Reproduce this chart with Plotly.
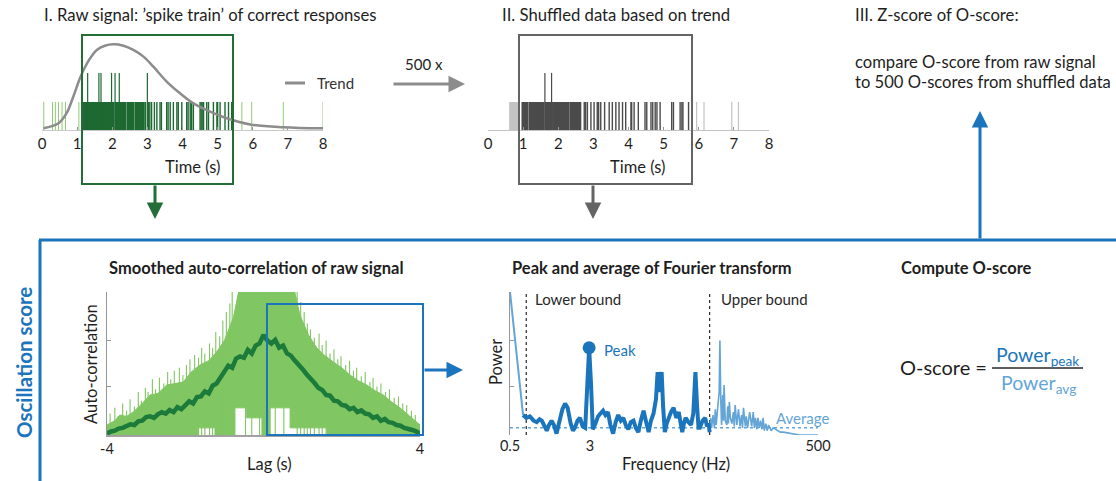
import plotly.graph_objects as go

W, H = 1116, 481
def px(x): return x / W
def py(y): return 1 - y / H

FONT = "Lato"
TXT = "rgb(30,30,30)"
BLUE = "rgb(27,117,188)"
LBLUE = "rgb(100,165,215)"
DGREEN = "rgb(30,105,50)"
LGREEN = "rgb(145,200,115)"
FILLGREEN = "rgb(128,198,98)"
SMOOTHGREEN = "rgb(28,122,58)"

# ---------------- data ----------------
time_ticks = [0, 1, 2, 3, 4, 5, 6, 7, 8]

# Panel I: raw spike train (s)
raw_light = [0.05, 0.30, 0.38, 0.47, 0.57, 0.67, 1.05, 5.69, 5.97, 6.87, 8.00]
raw_dark = [1.17, 1.20, 1.23, 1.26, 1.29, 1.32, 1.35, 1.38, 1.41, 1.44, 1.47, 1.50, 1.53, 1.56,
            1.59, 1.62, 1.65, 1.68, 1.71, 1.74, 1.77, 1.80, 1.83, 1.86, 1.89, 1.92, 1.95, 1.98,
            2.01, 2.04, 2.10, 2.13, 2.16, 2.19, 2.22, 2.25, 2.28, 2.31, 2.34, 2.37, 2.43, 2.46,
            2.49, 2.52, 2.55, 2.58, 2.61, 2.67, 2.70, 2.73, 2.76, 2.79, 2.82, 2.85, 2.89, 2.94]
raw_sparse = [3.03, 3.07, 3.12, 3.20, 3.27, 3.36, 3.40, 3.55, 3.59, 3.65, 3.74, 3.84, 3.88, 3.98,
              4.12, 4.16, 4.22, 4.26, 4.31, 4.50, 4.53, 4.56, 4.60, 4.69, 4.74, 4.88, 4.98, 5.00,
              5.07, 5.21, 5.31, 5.40]
raw_tall = [1.30, 1.62, 1.68, 1.98, 2.08, 2.20, 3.00]

trend_t = [0.04, 0.47, 0.70, 0.89, 1.08, 1.23, 1.37, 1.56, 1.79, 2.03, 2.32, 2.60, 2.89, 3.17,
           3.55, 3.93, 4.31, 4.69, 5.26, 5.93, 6.87, 8.0]
trend_v = [0.06, 0.24, 0.60, 1.19, 1.85, 2.26, 2.56, 2.86, 3.01, 3.06, 3.01, 2.86, 2.62, 2.26,
           1.73, 1.31, 0.95, 0.71, 0.42, 0.20, 0.10, 0.06]

# Panel II: shuffled spike train (s)
shuf_light = [0.63, 0.66, 0.69, 0.72, 0.75, 0.78, 0.81, 0.84]
shuf_light_sparse = [5.94, 6.15, 6.94, 7.13]
shuf_dark = [0.98, 1.01, 1.04, 1.07, 1.10, 1.13, 1.19, 1.22, 1.25, 1.28, 1.31, 1.34, 1.37, 1.40,
             1.43, 1.46, 1.49, 1.52, 1.55, 1.58, 1.64, 1.67, 1.70, 1.73, 1.76, 1.79, 1.85, 1.88,
             1.91, 1.94, 1.97, 2.00, 2.03, 2.06, 2.09, 2.12, 2.15, 2.18, 2.21, 2.24, 2.27, 2.30,
             2.36, 2.39, 2.42, 2.45, 2.48, 2.51, 2.54, 2.57, 2.60, 2.63]
shuf_sparse = [2.74, 2.78, 2.83, 2.93, 3.02, 3.11, 3.15, 3.21, 3.32, 3.45, 3.54, 3.64, 3.73, 3.83,
               3.92, 4.07, 4.09, 4.16, 4.28, 4.47, 4.52, 4.64, 4.69, 4.76, 4.81, 4.90, 5.23, 5.28,
               5.47, 5.52, 5.55, 5.71]
shuf_tall = [1.62, 1.81]

# Auto-correlation (lag in s): dense band of the raw auto-correlation
acf_band_lag = [-4.0, -3.8, -3.67, -3.5, -3.33, -3.1, -2.9, -2.7, -2.47, -2.25, -2.05, -1.85,
                -1.62, -1.4, -1.2, -1.0, -0.77, -0.6, 0.76, 0.93, 1.15, 1.36, 1.55, 1.79, 2.0,
                2.21, 2.42, 2.64, 2.85, 3.06, 3.28, 3.49, 3.75, 4.0]
acf_band_top = [0.07, 0.10, 0.14, 0.13, 0.16, 0.22, 0.28, 0.29, 0.35, 0.36, 0.37, 0.44, 0.49,
                0.52, 0.58, 0.66, 0.82, 1.05, 1.05, 0.84, 0.70, 0.61, 0.56, 0.51, 0.47, 0.42,
                0.38, 0.35, 0.31, 0.28, 0.23, 0.19, 0.13, 0.07]
acf_low_lag = [-4.0, -1.68, -1.68, -1.24, -1.24, -0.73, -0.73, -0.43, -0.43, -0.04, -0.04,
               0.17, 0.17, 0.68, 0.68, 1.62, 1.62, 4.0]
acf_low_val = [0, 0, 0.05, 0.05, 0, 0, 0.19, 0.19, 0.12, 0.12, 0, 0, 0.19, 0.19, 0.05, 0.05, 0, 0]
# thin spikes of the raw auto-correlation
acf_spike_lag = [-3.92, -3.8, -3.72, -3.6, -3.5, -3.41, -3.3, -3.2, -3.12, -3.02, -2.95, -2.84,
                 -2.76, -2.66, -2.55, -2.45, -2.37, -2.28, -2.15, -2.06, -1.97, -1.88, -1.76,
                 -1.66, -1.58, -1.5, -1.38, -1.3, -1.22, -1.12, -1.04, -0.95, -0.86, -0.8,
                 -0.46, -0.3, -0.1, 0.3, 0.52,
                 0.86, 0.95, 1.04, 1.12, 1.2, 1.3, 1.42, 1.5, 1.6, 1.7, 1.8, 1.9, 1.98, 2.1,
                 2.2, 2.3, 2.38, 2.5, 2.6, 2.72, 2.8, 2.9, 3.0, 3.12, 3.22, 3.34, 3.45, 3.56,
                 3.66, 3.78, 3.88]
acf_spike_top = [0.15, 0.19, 0.13, 0.22, 0.17, 0.25, 0.20, 0.30, 0.24, 0.33, 0.30, 0.39, 0.32,
                 0.40, 0.36, 0.44, 0.39, 0.45, 0.47, 0.42, 0.49, 0.53, 0.56, 0.54, 0.61, 0.57,
                 0.64, 0.61, 0.72, 0.69, 0.80, 0.86, 0.92, 1.05,
                 1.05, 1.05, 1.05, 1.05, 1.05,
                 1.05, 0.93, 0.86, 0.78, 0.74, 0.68, 0.71, 0.63, 0.66, 0.57, 0.60, 0.53, 0.55,
                 0.49, 0.52, 0.45, 0.47, 0.41, 0.44, 0.37, 0.40, 0.34, 0.36, 0.30, 0.32, 0.26,
                 0.27, 0.22, 0.21, 0.17, 0.14]
acf_lag = [-4.0, -3.9, -3.8, -3.7, -3.6, -3.5, -3.4, -3.3, -3.2, -3.1, -3.0, -2.9, -2.8, -2.7,
           -2.6, -2.5, -2.4, -2.3, -2.2, -2.1, -2.0, -1.9, -1.8, -1.7, -1.6, -1.5, -1.4, -1.3,
           -1.2, -1.1, -1.0, -0.9, -0.8, -0.7, -0.6, -0.5, -0.4, -0.3, -0.2, -0.1, 0.0, 0.1,
           0.2, 0.3, 0.4, 0.5, 0.6, 0.7, 0.8, 0.9, 1.0, 1.1, 1.2, 1.3, 1.4, 1.5, 1.6, 1.7, 1.8,
           1.9, 2.0, 2.1, 2.2, 2.3, 2.4, 2.5, 2.6, 2.7, 2.8, 2.9, 3.0, 3.1, 3.2, 3.3, 3.4, 3.5,
           3.6, 3.7, 3.8, 3.9, 4.0]
acf_smooth = [0.01, 0.025, 0.03, 0.045, 0.05, 0.065, 0.075, 0.07, 0.095, 0.10, 0.125, 0.13, 0.12,
              0.145, 0.16, 0.15, 0.175, 0.16, 0.195, 0.18, 0.21, 0.235, 0.22, 0.265, 0.27, 0.305,
              0.29, 0.345, 0.36, 0.405, 0.44, 0.485, 0.47, 0.535, 0.55, 0.54, 0.595, 0.57, 0.625,
              0.64, 0.70, 0.66, 0.64, 0.665, 0.61, 0.625, 0.57, 0.555, 0.52, 0.495, 0.46, 0.425,
              0.40, 0.365, 0.33, 0.315, 0.28, 0.275, 0.24, 0.235, 0.21, 0.205, 0.18, 0.19, 0.16,
              0.172, 0.15, 0.145, 0.12, 0.13, 0.10, 0.112, 0.09, 0.085, 0.07, 0.065, 0.05, 0.045,
              0.035, 0.025, 0.01]

# Fourier spectrum (Hz)
spec_lo_f = [0.5, 0.67]
spec_lo_p = [1.0, 0.14]
spec_mid_f = [0.67, 0.72, 0.78, 0.85, 0.91, 0.97, 1.02, 1.08, 1.14, 1.20, 1.27, 1.34, 1.42, 1.52,
              1.62, 1.72, 1.82, 1.95, 2.05, 2.14, 2.27, 2.40, 2.55, 2.70, 2.85, 2.95, 3.08, 3.20,
              3.40, 3.60, 3.80, 4.03, 4.25, 4.50, 4.75, 5.05, 5.35, 5.66, 6.00, 6.35, 6.70, 7.10,
              7.50, 7.97, 8.40, 8.90, 9.40, 10.0, 10.6, 11.2, 11.8, 12.5, 13.2, 13.7, 14.3, 15.0,
              15.5, 16.1, 16.8, 17.5, 18.5, 19.6, 20.8, 22.0, 23.0, 23.8, 24.7, 25.7, 27.3, 29.0,
              30.5, 32.0, 33.2, 34.3, 35.3, 37.5, 39.8, 41.5, 43.0, 44.0]
spec_mid_p = [0.14, 0.12, 0.13, 0.10, 0.09, 0.11, 0.10, 0.07, 0.03, 0.07, 0.10, 0.07, 0.01, 0.10,
              0.18, 0.22, 0.19, 0.08, 0.03, 0.05, 0.10, 0.12, 0.06, 0.05, 0.40, 0.61, 0.35, 0.04,
              0.08, 0.13, 0.15, 0.17, 0.14, 0.16, 0.07, 0.01, 0.09, 0.14, 0.10, 0.12, 0.07, 0.04,
              0.09, 0.10, 0.05, 0.02, 0.10, 0.17, 0.09, 0.02, 0.10, 0.15, 0.25, 0.44, 0.30, 0.44,
              0.20, 0.02, 0.08, 0.12, 0.16, 0.19, 0.12, 0.16, 0.08, 0.02, 0.08, 0.12, 0.09, 0.07,
              0.15, 0.44, 0.20, 0.05, 0.05, 0.10, 0.12, 0.06, 0.08, 0.02]
spec_hi_f = [44.0, 45.0, 46.0, 47.5, 49.0, 50.0, 51.0, 52.0, 53.0, 54.5, 55.4, 56.5, 57.5, 59.0,
             60.0, 60.8, 62.5, 64.7, 66.0, 67.0, 68.5, 70.0, 72.5, 75.0, 76.5, 78.0, 81.0, 84.0,
             87.0, 90.0, 92.0, 94.0, 98.0, 100, 103, 108, 113, 117, 120, 123, 127, 130, 134, 138,
             142, 146, 150, 155, 160, 165, 175, 183, 200, 215, 230, 270, 330, 500]
spec_hi_p = [0.02, 0.12, 0.05, 0.14, 0.05, 0.18, 0.07, 0.12, 0.21, 0.30, 0.66, 0.25, 0.07, 0.28,
             0.10, 0.35, 0.10, 0.07, 0.20, 0.08, 0.23, 0.12, 0.08, 0.16, 0.06, 0.21, 0.07, 0.18,
             0.06, 0.14, 0.05, 0.19, 0.06, 0.13, 0.05, 0.16, 0.06, 0.16, 0.05, 0.12, 0.04, 0.12,
             0.05, 0.10, 0.04, 0.12, 0.03, 0.08, 0.03, 0.07, 0.03, 0.05, 0.03, 0.02, 0.02, 0.01,
             0.0, 0.0]
peak_f, peak_p = 2.95, 0.61
avg_p = 0.05
lower_bound_f, upper_bound_f = 0.72, 44.0
freq_ticks = [0.5, 3, 500]
lag_ticks = [-4, 4]

SPIKE_H, TALL_H = 1.0, 2.04


def spikes(times, h):
    xs, ys = [], []
    hs = h if isinstance(h, list) else [h] * len(times)
    for t, v in zip(times, hs):
        xs += [t, t, None]
        ys += [0, v, None]
    return xs, ys


fig = go.Figure()

def add_spikes(times, h, color, xa, ya, w=1.0):
    xs, ys = spikes(times, h)
    fig.add_trace(go.Scatter(x=xs, y=ys, mode="lines", line=dict(color=color, width=w),
                             xaxis=xa, yaxis=ya, hoverinfo="skip", showlegend=False))

# Panel I
add_spikes(raw_light, SPIKE_H, LGREEN, "x", "y")
add_spikes(raw_dark, SPIKE_H, DGREEN, "x", "y", 1.9)
add_spikes(raw_sparse, SPIKE_H, DGREEN, "x", "y", 1.4)
add_spikes(raw_tall, TALL_H, DGREEN, "x", "y", 1.2)
fig.add_trace(go.Scatter(x=trend_t, y=trend_v, mode="lines",
                         line=dict(color="rgb(140,140,140)", width=2.5, shape="spline"),
                         xaxis="x", yaxis="y", showlegend=False))
# Panel II
add_spikes(shuf_light, SPIKE_H, "rgb(195,195,195)", "x2", "y2", 1.9)
add_spikes(shuf_light_sparse, SPIKE_H, "rgb(195,195,195)", "x2", "y2", 1.2)
add_spikes(shuf_dark, SPIKE_H, "rgb(75,75,75)", "x2", "y2", 1.9)
add_spikes(shuf_sparse, SPIKE_H, "rgb(75,75,75)", "x2", "y2", 1.4)
add_spikes(shuf_tall, TALL_H, "rgb(75,75,75)", "x2", "y2", 1.2)

# Auto-correlation
poly_x = acf_band_lag + acf_low_lag[::-1]
poly_y = acf_band_top + acf_low_val[::-1]
fig.add_trace(go.Scatter(x=poly_x, y=poly_y, mode="lines", fill="toself", fillcolor=FILLGREEN,
                         line=dict(color=FILLGREEN, width=1), xaxis="x3", yaxis="y3", showlegend=False))
add_spikes(acf_spike_lag, acf_spike_top, FILLGREEN, "x3", "y3", 1.1)
fig.add_trace(go.Scatter(x=acf_lag, y=acf_smooth, mode="lines", line=dict(color=SMOOTHGREEN, width=4.5),
                         xaxis="x3", yaxis="y3", showlegend=False))

# Spectrum
fig.add_trace(go.Scatter(x=[0.5, 500], y=[avg_p, avg_p], mode="lines",
                         line=dict(color=LBLUE, width=1.5, dash="dot"),
                         xaxis="x4", yaxis="y4", showlegend=False))
for bf in [lower_bound_f, upper_bound_f]:
    fig.add_trace(go.Scatter(x=[bf, bf], y=[0, 1], mode="lines",
                             line=dict(color="rgb(40,40,40)", width=1.2, dash="dot"),
                             xaxis="x4", yaxis="y4", showlegend=False))
fig.add_trace(go.Scatter(x=spec_lo_f, y=spec_lo_p, mode="lines", line=dict(color=LBLUE, width=2),
                         xaxis="x4", yaxis="y4", showlegend=False))
fig.add_trace(go.Scatter(x=spec_hi_f, y=spec_hi_p, mode="lines", line=dict(color=LBLUE, width=1.6),
                         xaxis="x4", yaxis="y4", showlegend=False))
fig.add_trace(go.Scatter(x=spec_mid_f, y=spec_mid_p, mode="lines", line=dict(color=BLUE, width=4),
                         xaxis="x4", yaxis="y4", showlegend=False))
fig.add_trace(go.Scatter(x=[peak_f], y=[peak_p], mode="markers", marker=dict(color=BLUE, size=13),
                         xaxis="x4", yaxis="y4", showlegend=False))

tickfont = dict(family=FONT, size=15, color=TXT)
common = dict(showgrid=False, zeroline=False, fixedrange=True, automargin=False)

fig.update_layout(
    width=W, height=H, margin=dict(l=0, r=0, t=0, b=0, pad=0, autoexpand=False),
    paper_bgcolor="white", plot_bgcolor="rgba(0,0,0,0)",
    font=dict(family=FONT, color=TXT),
    xaxis=dict(domain=[px(42), px(323)], range=[0, 8], anchor="y", tickvals=time_ticks,
               showline=True, linecolor="rgb(200,200,200)", linewidth=1, ticks="inside", ticklen=3,
               tickcolor="rgb(150,150,150)", tickfont=tickfont, **common),
    yaxis=dict(domain=[py(130), py(40)], range=[0, 90 / 28], anchor="x", visible=False, **common),
    xaxis2=dict(domain=[px(488), px(769)], range=[0, 8], anchor="y2", tickvals=time_ticks,
                showline=True, linecolor="rgb(195,195,195)", linewidth=1, ticks="inside", ticklen=3,
                tickcolor="rgb(150,150,150)", tickfont=tickfont, **common),
    yaxis2=dict(domain=[py(130), py(40)], range=[0, 90 / 28], anchor="x2", visible=False, **common),
    xaxis3=dict(domain=[px(107), px(420)], range=[-4, 4], anchor="y3", tickvals=lag_ticks,
                ticktext=[str(v) for v in lag_ticks], showline=True, linecolor="rgb(160,160,160)",
                linewidth=2, ticks="", tickfont=dict(family=FONT, size=14.5, color=TXT), **common),
    yaxis3=dict(domain=[py(435), py(292)], range=[0, 1], anchor="x3", showline=True,
                linecolor="rgb(150,150,150)", linewidth=1, ticks="inside", ticklen=4,
                tickcolor="rgb(150,150,150)", tickvals=[0.336, 0.664], showticklabels=False, **common),
    xaxis4=dict(domain=[px(510), px(818)], type="log", range=[-0.30103, 2.69897], anchor="y4",
                tickvals=freq_ticks, ticktext=[str(v) for v in freq_ticks], showline=False, ticks="",
                tickfont=dict(family=FONT, size=14.5, color=TXT), **common),
    yaxis4=dict(domain=[py(435), py(292)], range=[0, 1], anchor="x4", showline=True,
                linecolor="rgb(150,150,150)", linewidth=1, ticks="inside", ticklen=4,
                tickcolor="rgb(150,150,150)", tickvals=[0.336, 0.664], showticklabels=False, **common),
)

shapes = []
def rect(x0, y0, x1, y1, color, w=2):
    shapes.append(dict(type="rect", xref="paper", yref="paper", x0=px(x0), x1=px(x1),
                       y0=py(y1), y1=py(y0), line=dict(color=color, width=w)))
def line(x0, y0, x1, y1, color, w=2):
    shapes.append(dict(type="line", xref="paper", yref="paper", x0=px(x0), x1=px(x1),
                       y0=py(y0), y1=py(y1), line=dict(color=color, width=w)))

rect(82, 35, 233, 184, "rgb(35,110,55)", 2)
rect(519, 35, 692, 184, "rgb(100,100,100)", 2)
rect(267, 304, 423, 435, BLUE, 2)
line(40, 240, 40, 490, BLUE, 3)
line(39, 240, 1120, 240, BLUE, 3)
line(285, 83, 305, 83, "rgb(140,140,140)", 3)
line(992, 368, 1083, 368, "rgb(40,40,40)", 1.3)
fig.update_layout(shapes=shapes)

ann = []
def text(x, y, s, size=15, color=TXT, anchor="left", bold=False, angle=0):
    if bold:
        s = "<b>" + s + "</b>"
    ann.append(dict(x=px(x), y=py(y), xref="paper", yref="paper", text=s, showarrow=False,
                    xanchor=anchor, yanchor="middle", textangle=angle,
                    font=dict(family=FONT, size=size, color=color)))
def arrow(x0, y0, x1, y1, color, w=3):
    ann.append(dict(x=px(x1), y=py(y1), xref="paper", yref="paper", text="", showarrow=True,
                    ax=x0 - x1, ay=y0 - y1, axref="pixel", ayref="pixel",
                    arrowhead=2, arrowsize=1.1, arrowwidth=w, arrowcolor=color, standoff=0))

text(42, 15, "I. Raw signal: \u2019spike train\u2019 of correct responses", 16.7)
text(500, 15, "II. Shuffled data based on trend", 16.7)
text(853, 15, "III. Z-score of O-score:", 16.7)
text(853, 62, "compare O-score from raw signal", 16.6)
text(853, 82, "to 500 O-scores from shuffled data", 16.6)
text(315, 83, "Trend", 15, "rgb(50,50,50)")
text(403, 64, "500 x", 15)
text(192, 167, "Time (s)", 16.5, anchor="center")
text(637, 167, "Time (s)", 16.5, anchor="center")

text(256, 268, "Smoothed auto-correlation of raw signal", 16.5, anchor="center", bold=True)
text(652, 268, "Peak and average of Fourier transform", 16.5, anchor="center", bold=True)
text(966, 268, "Compute O-score", 16.5, anchor="center", bold=True)
text(24, 363, "Oscillation score", 20.5, BLUE, anchor="center", bold=True, angle=-90)
text(91, 364, "Auto-correlation", 16.5, anchor="center", angle=-90)
text(496, 362, "Power", 16.5, anchor="center", angle=-90)
text(269, 464, "Lag (s)", 16.5, anchor="center")
text(676, 464, "Frequency (Hz)", 16.5, anchor="center")
text(533, 299, "Lower bound", 15, "rgb(40,40,40)")
text(719, 299, "Upper bound", 15, "rgb(40,40,40)")
text(602, 350, "Peak", 15, BLUE)
text(774, 418, "Average", 15, LBLUE)
text(898, 367, "O-score =", 20)
text(994, 356, "Power<sub>peak</sub>", 19.5, BLUE)
text(999, 384, "Power<sub>avg</sub>", 19.5, LBLUE)

arrow(155, 184, 155, 219, "rgb(35,110,55)")
arrow(593, 184, 593, 219, "rgb(100,100,100)")
arrow(392, 84, 465, 84, "rgb(140,140,140)")
arrow(980, 240, 980, 111, BLUE)
arrow(423, 370, 463, 370, BLUE)
fig.update_layout(annotations=ann)

fig.write_html("out.html", config={"responsive": False, "displayModeBar": False},
               post_script="document.body.style.margin='0px';document.body.style.overflow='hidden';")
